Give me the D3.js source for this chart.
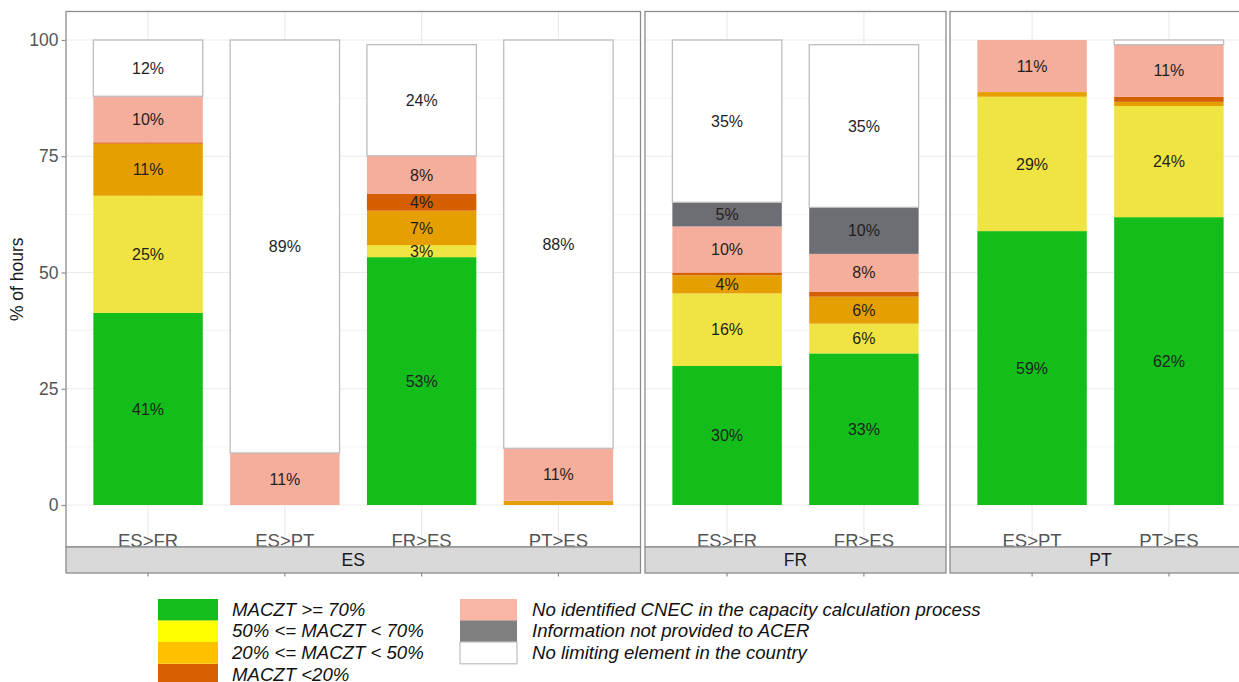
<!DOCTYPE html>
<html>
<head>
<meta charset="utf-8">
<script src="https://cdn.jsdelivr.net/npm/d3@7"></script>
<style>
  html, body { margin: 0; padding: 0; background: #ffffff; }
  svg { display: block; font-family: "Liberation Sans", Arial, sans-serif; }
</style>
</head>
<body>
<svg id="chart" width="1239" height="682"></svg>
<script>
// ---- Data ----
const panels = ["ES", "FR", "PT"];
const barPanel = ["ES", "ES", "ES", "ES", "FR", "FR", "PT", "PT"];
const barBorder = ["ES>FR", "ES>PT", "FR>ES", "PT>ES", "ES>FR", "FR>ES", "ES>PT", "PT>ES"];

const seriesKeys = ["g70", "g50", "g20", "g0", "nocnec", "noinfo", "nolimit"];
const seriesLabels = [
  "MACZT >= 70%",
  "50% <= MACZT < 70%",
  "20% <= MACZT < 50%",
  "MACZT <20%",
  "No identified CNEC in the capacity calculation process",
  "Information not provided to ACER",
  "No limiting element in the country"
];
const g70     = [41.3, 0,    53.3, 0,    29.9, 32.6, 58.9, 61.9];
const g50     = [25.2, 0,    2.6,  0,    15.6, 6.4,  28.9, 23.9];
const g20     = [11.2, 0,    7.4,  0.9,  3.9,  5.8,  1.0,  0.9];
const g0      = [0.3,  0,    3.6,  0,    0.6,  1.1,  0,    1.1];
const nocnec  = [9.9,  11.2, 8.2,  11.3, 9.9,  8.1,  11.2, 11.2];
const noinfo  = [0,    0,    0,    0,    5.2,  10.0, 0,    0];
const nolimit = [12.1, 88.8, 23.9, 87.8, 34.9, 35.0, 0,    1.0];
const yTicks = [0, 25, 50, 75, 100];
const yMinor = [12.5, 37.5, 62.5, 87.5];

const seriesValues = { g70, g50, g20, g0, nocnec, noinfo, nolimit };

// ---- Styles ----
const barColors = {
  g70: "#13be1b", g50: "#f0e442", g20: "#e69f00", g0: "#d55e00",
  nocnec: "#f6ae9c", noinfo: "#6d6e73", nolimit: "#ffffff"
};
const legendColors = {
  g70: "#13be1c", g50: "#ffff00", g20: "#ffc000", g0: "#d65f00",
  nocnec: "#f9b5a6", noinfo: "#808080", nolimit: "#ffffff"
};

const svg = d3.select("#chart");

// ---- Layout ----
const panelTop = 11.5, panelBottom = 547, stripBottom = 573;
const panelX = { ES: [66, 640.5], FR: [645, 946], PT: [950, 1251] };
const y = d3.scaleLinear().domain([0, 100]).range([505, 40]);

const bars = barBorder.map((b, i) => {
  let cum = 0;
  const segs = seriesKeys.map(k => {
    const v = seriesValues[k][i];
    const s = { key: k, v, y0: cum, y1: cum + v };
    cum += v;
    return s;
  }).filter(s => s.v > 0);
  return { panel: barPanel[i], border: b, segs };
});

panels.forEach(p => {
  const cats = barBorder.filter((b, i) => barPanel[i] === p);
  const x = d3.scaleBand().domain(cats).range(panelX[p]).paddingInner(0.2).paddingOuter(0.2);
  const g = svg.append("g");
  const [x0, x1] = panelX[p];

  g.selectAll(".minor").data(yMinor).enter().append("line")
    .attr("x1", x0).attr("x2", x1).attr("y1", d => y(d)).attr("y2", d => y(d))
    .attr("stroke", "#f4f4f4").attr("stroke-width", 1);
  g.selectAll(".major").data(yTicks).enter().append("line")
    .attr("x1", x0).attr("x2", x1).attr("y1", d => y(d)).attr("y2", d => y(d))
    .attr("stroke", "#ebebeb").attr("stroke-width", 1.2);
  g.selectAll(".vgrid").data(cats).enter().append("line")
    .attr("x1", d => x(d) + x.bandwidth() / 2).attr("x2", d => x(d) + x.bandwidth() / 2)
    .attr("y1", panelTop).attr("y2", panelBottom)
    .attr("stroke", "#ebebeb").attr("stroke-width", 1.2);

  const pb = bars.filter(b => b.panel === p);
  pb.forEach(b => {
    const bg = g.append("g");
    bg.selectAll("rect").data(b.segs).enter().append("rect")
      .attr("x", x(b.border))
      .attr("width", x.bandwidth())
      .attr("y", d => y(d.y1))
      .attr("height", d => y(d.y0) - y(d.y1))
      .attr("fill", d => barColors[d.key])
      .attr("stroke", d => d.key === "nolimit" ? "#bdbdbd" : "none")
      .attr("stroke-width", 1.3);
    bg.selectAll("text").data(b.segs.filter(d => d.v >= 2.5)).enter().append("text")
      .attr("x", x(b.border) + x.bandwidth() / 2)
      .attr("y", d => y((d.y0 + d.y1) / 2))
      .attr("dy", "0.36em")
      .attr("text-anchor", "middle")
      .attr("font-size", 16)
      .attr("fill", "#1f1f1f")
      .text(d => Math.round(d.v) + "%");
  });

  g.selectAll(".xl").data(cats).enter().append("text")
    .attr("x", d => x(d) + x.bandwidth() / 2)
    .attr("y", 546.5)
    .attr("text-anchor", "middle")
    .attr("font-size", 18.5)
    .attr("fill", "#555555")
    .text(d => d);

  g.append("rect").attr("x", x0).attr("y", panelTop)
    .attr("width", x1 - x0).attr("height", panelBottom - panelTop)
    .attr("fill", "none").attr("stroke", "#8c8c8c").attr("stroke-width", 1.3);

  g.append("rect").attr("x", x0).attr("y", panelBottom)
    .attr("width", x1 - x0).attr("height", stripBottom - panelBottom)
    .attr("fill", "#d9d9d9").attr("stroke", "#8c8c8c").attr("stroke-width", 1.3);
  g.append("text").attr("x", (x0 + x1) / 2).attr("y", (panelBottom + stripBottom) / 2)
    .attr("dy", "0.36em").attr("text-anchor", "middle")
    .attr("font-size", 17.5).attr("fill", "#1a1a1a").text(p);

  const xAxis = d3.axisBottom(x).tickSize(3.5).tickFormat("");
  const ax = g.append("g").attr("transform", `translate(0,${stripBottom})`).call(xAxis);
  ax.select(".domain").remove();
  ax.selectAll("line").attr("stroke", "#8c8c8c").attr("stroke-width", 1.2);
});

const yAxis = d3.axisLeft(y).tickValues(yTicks).tickSize(4).tickPadding(3);
const ya = svg.append("g").attr("transform", "translate(65.5,0)").call(yAxis);
ya.select(".domain").remove();
ya.selectAll("line").attr("stroke", "#8c8c8c").attr("stroke-width", 1.2);
ya.selectAll("text").attr("font-size", 17.5).attr("fill", "#555555")
  .attr("font-family", "'Liberation Sans', Arial, sans-serif");

svg.append("text")
  .attr("transform", `translate(23,${(panelTop + panelBottom) / 2}) rotate(-90)`)
  .attr("text-anchor", "middle")
  .attr("font-size", 17.5).attr("fill", "#1a1a1a")
  .text("% of hours");

const legendCols = [
  { keys: ["g70", "g50", "g20", "g0"], sx: 158, sw: 60, tx: 232 },
  { keys: ["nocnec", "noinfo", "nolimit"], sx: 460, sw: 57, tx: 532 }
];
const rowY = [599, 620.5, 642, 664];
const rowH = 21.8;
legendCols.forEach(col => {
  col.keys.forEach((k, i) => {
    svg.append("rect")
      .attr("x", col.sx).attr("y", rowY[i])
      .attr("width", col.sw).attr("height", rowH)
      .attr("fill", legendColors[k])
      .attr("stroke", k === "nolimit" ? "#bfbfbf" : "none")
      .attr("stroke-width", 1.2);
    svg.append("text")
      .attr("x", col.tx).attr("y", rowY[i] + 16.8)
      .attr("font-size", 18.6).attr("font-style", "italic")
      .attr("fill", "#111111")
      .text(seriesLabels[seriesKeys.indexOf(k)]);
  });
});
</script>
</body>
</html>
